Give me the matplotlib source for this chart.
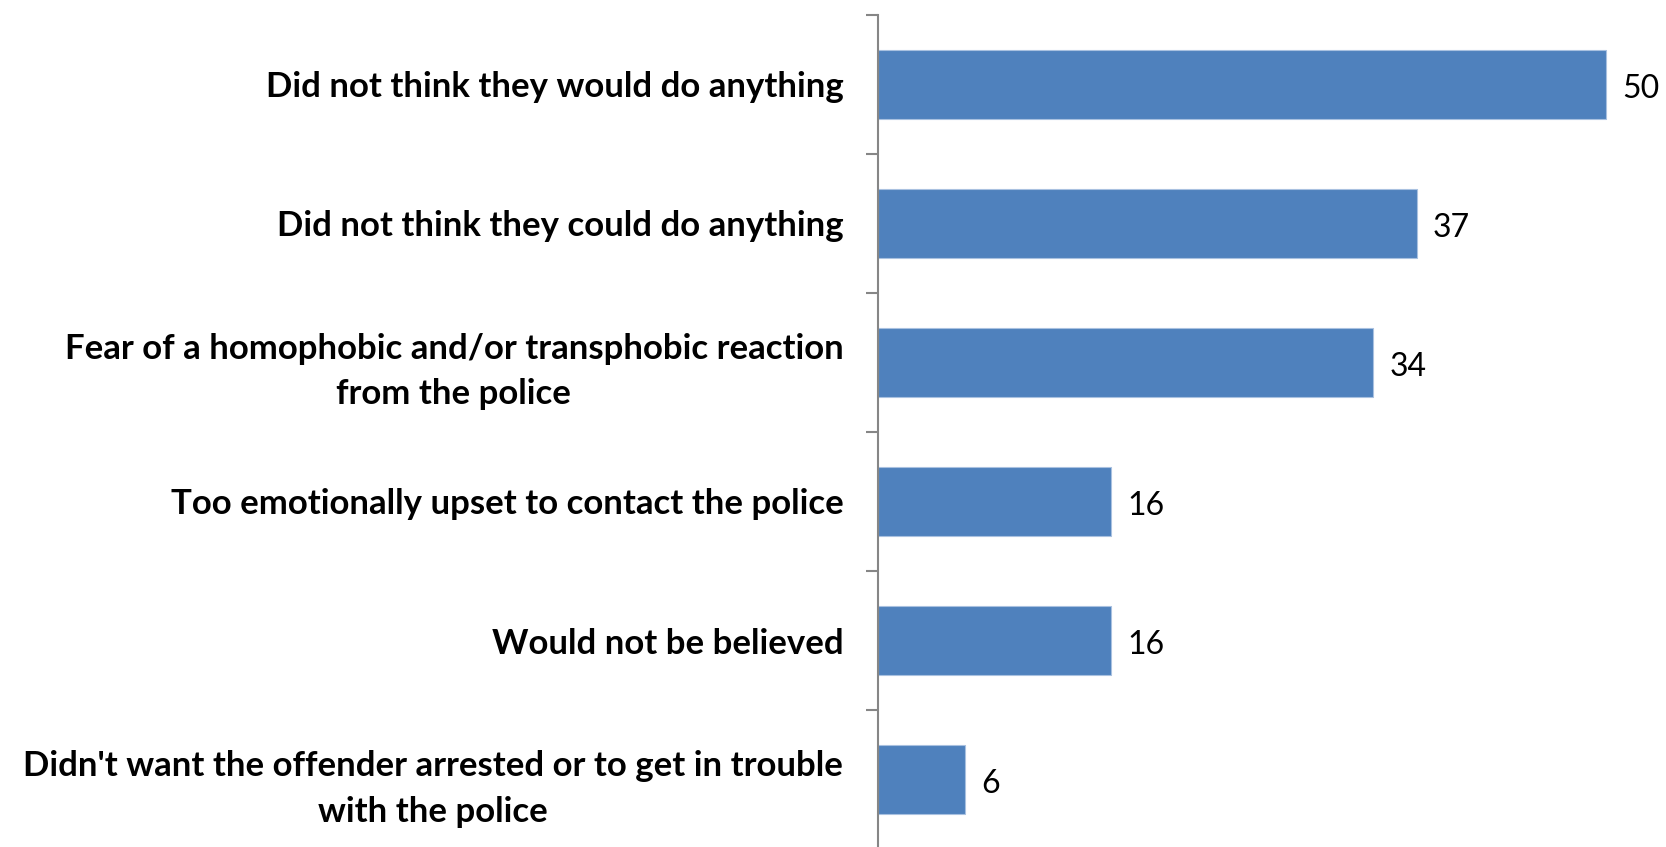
import matplotlib.pyplot as plt

# survey reasons, top to bottom
reasons = [
    "Did not think they would do anything",
    "Did not think they could do anything",
    "Fear of a homophobic and/or transphobic reaction\nfrom the police",
    "Too emotionally upset to contact the police",
    "Would not be believed",
    "Didn't want the offender arrested or to get in trouble\nwith the police",
]
percent = [50, 37, 34, 16, 16, 6]

fig = plt.figure(figsize=(16.66, 8.47), dpi=100)
# axes placed so the value axis starts at x=878px and categories span 15..849px
ax = fig.add_axes([878 / 1666, (847 - 849) / 847, (1666 - 878) / 1666, 834 / 847])

pos = list(range(len(reasons)))
ax.barh(pos, percent, height=0.5, color="#4F81BD", edgecolor="#A9C1E0", linewidth=0.8)
ax.set_ylim(len(reasons) - 0.5, -0.5)
ax.set_xlim(0, 54.1)

for p, v in zip(pos, percent):
    ax.text(v + 1.1, p + 0.03, str(v), va="center", ha="left", fontsize=23, family="Lato")

# ticks sit between categories, labels at the centres
ax.set_yticks([p - 0.5 for p in pos] + [len(reasons) - 0.5])
ax.set_yticklabels([])
ax.tick_params(axis="y", length=9, width=1.5, color="#868686", direction="out")
ax.set_yticks(pos, minor=True)
ax.set_yticklabels(reasons, minor=True, fontsize=25, fontweight="bold", family="Lato",
                   multialignment="center", linespacing=1.5)
ax.tick_params(axis="y", which="minor", length=0, pad=25)
ax.set_xticks([])

for s in ["top", "right", "bottom"]:
    ax.spines[s].set_visible(False)
ax.spines["left"].set_color("#868686")
ax.spines["left"].set_linewidth(1.5)

fig.savefig("out.png", dpi=100)
